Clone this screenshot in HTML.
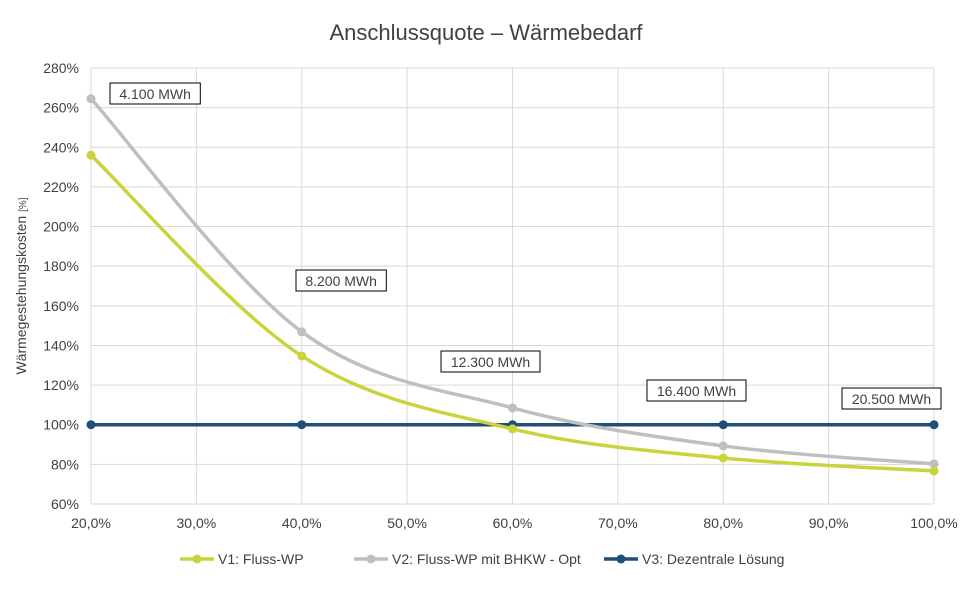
<!DOCTYPE html>
<html><head><meta charset="utf-8"><style>
body{margin:0;background:#fff;font-family:"Liberation Sans",sans-serif;}
svg text{font-family:"Liberation Sans",sans-serif;fill:#404040;}
</style></head><body>
<svg id="chart" width="972" height="588" viewBox="0 0 972 588" xmlns="http://www.w3.org/2000/svg">
<rect width="972" height="588" fill="#fff"/>
<text x="486" y="40" text-anchor="middle" font-size="22" fill="#404040">Anschlussquote – Wärmebedarf</text>
<g id="grid"></g><g id="axes"></g><g id="series"></g><g id="labels"></g>
<text transform="translate(26,286) rotate(-90)" text-anchor="middle" font-size="14">Wärmegestehungskosten <tspan font-size="10">[%]</tspan></text>
<g id="legend"></g>
</svg>
<script>
const xCats=[20,40,60,80,100];
const v1=[236,134.7,97.9,83.2,76.7];
const v2=[264.5,146.9,108.5,89.3,80.2];
const v3=[100,100,100,100,100];
const xTicks=[20,30,40,50,60,70,80,90,100];
const yTicks=[60,80,100,120,140,160,180,200,220,240,260,280];
const annotations=["4.100 MWh","8.200 MWh","12.300 MWh","16.400 MWh","20.500 MWh"];
const annX=[110,296,441,647,842];
const annY=[83,270,351,380,388];
const NS="http://www.w3.org/2000/svg";
const X=v=>91+(v-20)/80*843;
const Y=v=>504-(v-60)/220*436;
function mk(tag,attrs,parent,txt){const e=document.createElementNS(NS,tag);for(const k in attrs)e.setAttribute(k,attrs[k]);if(txt!==undefined)e.textContent=txt;document.getElementById(parent).appendChild(e);return e;}
yTicks.forEach(t=>{const l=mk('line',{x1:91,x2:934,y1:Y(t),y2:Y(t),stroke:'#d9d9d9','stroke-width':1},'grid');

const tx=mk('text',{x:79,y:Y(t)+5,'text-anchor':'end','font-size':14},'axes',t+'%');
});
xTicks.forEach(t=>{const l=mk('line',{x1:X(t),x2:X(t),y1:Y(280),y2:Y(60),stroke:'#d9d9d9','stroke-width':1},'grid');

const tx=mk('text',{x:X(t),y:528,'text-anchor':'middle','font-size':14},'axes',t.toFixed(1).replace('.',',')+'%');
});
function smooth(pts){let d=`M${pts[0][0]},${pts[0][1]}`;for(let i=0;i<pts.length-1;i++){const p0=pts[i-1]||pts[i],p1=pts[i],p2=pts[i+1],p3=pts[i+2]||p2;
const c1=[p1[0]+(p2[0]-p0[0])/6,p1[1]+(p2[1]-p0[1])/6],c2=[p2[0]-(p3[0]-p1[0])/6,p2[1]-(p3[1]-p1[1])/6];
d+=` C${c1[0]},${c1[1]} ${c2[0]},${c2[1]} ${p2[0]},${p2[1]}`;}return d;}
[[v3,'#1f4e79','v3'],[v2,'#bfbfbf','v2'],[v1,'#c9d43d','v1']].forEach(([vals,c,n])=>{
const pts=vals.map((v,i)=>[X(xCats[i]),Y(v)]);
const p=mk('path',{d:smooth(pts),fill:'none',stroke:c,'stroke-width':3.5},'series');

pts.forEach(q=>{const ci=mk('circle',{cx:q[0],cy:q[1],r:4.5,fill:c},'series');
});});
annotations.forEach((a,i)=>{const w=a.length*8.7+12;
const r=mk('rect',{x:annX[i],y:annY[i],width:w,height:21,fill:'#fff',stroke:'#000','stroke-width':1},'labels');

const t=mk('text',{x:annX[i]+w/2,y:annY[i]+16,'text-anchor':'middle','font-size':14,fill:'#000'},'labels',a);
});
const leg=[['V1: Fluss-WP','#c9d43d',180],['V2: Fluss-WP mit BHKW - Opt','#bfbfbf',354],['V3: Dezentrale Lösung','#1f4e79',604]];
leg.forEach(([l,c,x])=>{const ln=mk('line',{x1:x,x2:x+34,y1:559,y2:559,stroke:c,'stroke-width':3.5},'legend');

const ci=mk('circle',{cx:x+17,cy:559,r:4.5,fill:c},'legend');
const t=mk('text',{x:x+38,y:564,'font-size':14},'legend',l);});
</script>
</body></html>
